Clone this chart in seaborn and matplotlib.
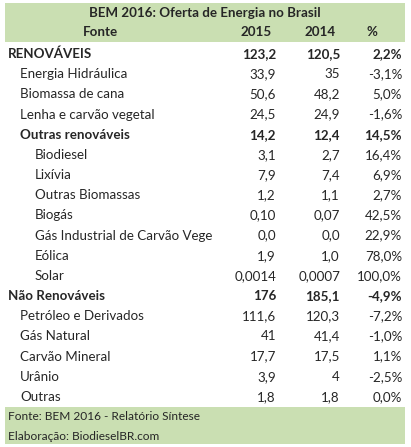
import matplotlib
matplotlib.use("Agg")
import matplotlib.pyplot as plt
import seaborn as sns

title = "BEM 2016: Oferta de Energia no Brasil"
headers = ["Fonte", "2015", "2014", "%"]
labels = ["RENOVÁVEIS", "Energia Hidráulica", "Biomassa de cana", "Lenha e carvão vegetal",
          "Outras renováveis", "Biodiesel", "Lixívia", "Outras Biomassas", "Biogás",
          "Gás Industrial de Carvão Vege", "Eólica", "Solar", "Não Renováveis",
          "Petróleo e Derivados", "Gás Natural", "Carvão Mineral", "Urânio", "Outras"]
levels = [0, 1, 1, 1, 1, 2, 2, 2, 2, 2, 2, 2, 0, 1, 1, 1, 1, 1]
bold = [True, False, False, False, True, False, False, False, False, False, False, False,
        True, False, False, False, False, False]
v2015 = ["123,2", "33,9", "50,6", "24,5", "14,2", "3,1", "7,9", "1,2", "0,10", "0,0", "1,9",
         "0,0014", "176", "111,6", "41", "17,7", "3,9", "1,8"]
v2014 = ["120,5", "35", "48,2", "24,9", "12,4", "2,7", "7,4", "1,1", "0,07", "0,0", "1,0",
         "0,0007", "185,1", "120,3", "41,4", "17,5", "4", "1,8"]
pct = ["2,2%", "-3,1%", "5,0%", "-1,6%", "14,5%", "16,4%", "6,9%", "2,7%", "42,5%", "22,9%",
       "78,0%", "100,0%", "-4,9%", "-7,2%", "-1,0%", "1,1%", "-2,5%", "0,0%"]
footer = ["Fonte: BEM 2016 - Relatório Síntese", "Elaboração: BiodieselBR.com"]

sns.set_theme(style="white")
plt.rcParams['font.family'] = ['Lato', 'DejaVu Sans']
fig = plt.figure(figsize=(4.11, 4.47), dpi=100)
ax = fig.add_axes([0, 0, 1, 1])
ax.set_xlim(0, 411)
ax.set_ylim(447, 0)
ax.axis("off")
green = "#CADFB2"
fs = 9.6
ax.add_patch(plt.Rectangle((5, 3), 400, 39, color=green, lw=0))
ax.add_patch(plt.Rectangle((5, 407), 400, 37, color=green, lw=0))
ax.text(205, 13, title, ha="center", va="center", fontsize=fs, fontweight="bold")
ax.text(100, 32, headers[0], ha="center", va="center", fontsize=fs, fontweight="bold")
ax.text(256, 32, headers[1], ha="center", va="center", fontsize=fs, fontweight="bold")
ax.text(320, 32, headers[2], ha="center", va="center", fontsize=fs, fontweight="bold")
ax.text(372, 32, headers[3], ha="center", va="center", fontsize=fs, fontweight="bold")
step = (397 - 54) / 17
for i, lab in enumerate(labels):
    y = 54 + i * step
    w = "bold" if bold[i] else "normal"
    x0 = [8, 20, 35][levels[i]]
    ax.text(x0, y, lab, ha="left", va="center", fontsize=fs, fontweight=w)
    ax.text(276, y, v2015[i], ha="right", va="center", fontsize=fs, fontweight=w)
    ax.text(340, y, v2014[i], ha="right", va="center", fontsize=fs, fontweight=w)
    ax.text(402, y, pct[i], ha="right", va="center", fontsize=fs, fontweight=w)
ax.text(8, 416, footer[0], ha="left", va="center", fontsize=8.6)
ax.text(8, 436, footer[1], ha="left", va="center", fontsize=8.6)
fig.savefig("out.png", dpi=100)
